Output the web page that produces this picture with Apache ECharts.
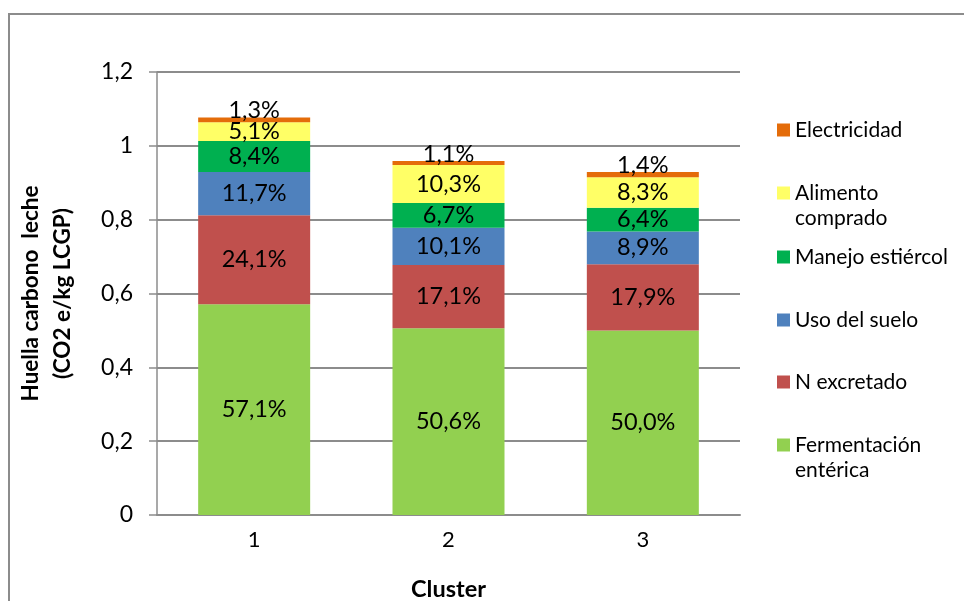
<!DOCTYPE html>
<html>
<head>
<meta charset="utf-8">
<script src="https://cdn.jsdelivr.net/npm/echarts@6/dist/echarts.min.js"></script>
<style>
  html, body { margin: 0; padding: 0; background: #ffffff; }
  #chart { width: 964px; height: 601px; }
</style>
</head>
<body>
<div id="chart"></div>
<script>
// Clusters on the horizontal axis
var clusters = ['1', '2', '3'];

// Carbon footprint contributions (kg CO2 e / kg LCGP) per source
var fermentacion = [0.571, 0.506, 0.500];
var nExcretado   = [0.241, 0.171, 0.179];
var usoSuelo     = [0.117, 0.101, 0.089];
var manejo       = [0.084, 0.067, 0.064];
var alimento     = [0.051, 0.103, 0.083];
var electricidad = [0.013, 0.011, 0.014];

// Y axis tick values
var yTicks = [0, 0.2, 0.4, 0.6, 0.8, 1, 1.2];

var FONT = 'Lato, "Open Sans", sans-serif';

function pct(v) {
  return (v * 100).toFixed(1).replace('.', ',') + '%';
}

function bar(name, data, color, labelOffset) {
  return {
    name: name,
    type: 'bar',
    stack: 'total',
    barWidth: 112,
    data: data,
    itemStyle: { color: color },
    label: {
      show: true,
      position: 'inside',
      offset: labelOffset || [0, 0],
      color: '#000000',
      fontFamily: FONT,
      fontSize: 23.5,
      formatter: function (p) { return pct(p.value); }
    },
    emphasis: { disabled: true }
  };
}

// One legend block per entry so each can sit at its own height
var legendRows = [
  { name: 'Electricidad',          text: 'Electricidad',     center: 130 },
  { name: 'Alimento comprado',     text: 'Alimento',         center: 193 },
  { name: 'Manejo estiércol',      text: 'Manejo estiércol', center: 257 },
  { name: 'Uso del suelo',         text: 'Uso del suelo',    center: 320 },
  { name: 'N excretado',           text: 'N excretado',      center: 382 },
  { name: 'Fermentación entérica', text: 'Fermentación',     center: 445 }
];

var legends = legendRows.map(function (r) {
  return {
    data: [r.name],
    orient: 'vertical',
    left: 777,
    top: r.center - 12.5,
    padding: 0,
    itemWidth: 13,
    itemHeight: 13,
    icon: 'rect',
    selectedMode: false,
    formatter: function () { return r.text; },
    textStyle: { fontFamily: FONT, fontSize: 21, lineHeight: 25, color: '#000000' }
  };
});

var chart = echarts.init(document.getElementById('chart'), null, { renderer: 'canvas' });

chart.setOption({
  animation: false,
  backgroundColor: '#ffffff',
  grid: { left: 157, right: 224, top: 72, bottom: 86, containLabel: false, outerBoundsMode: 'none' },
  legend: legends,
  graphic: [
    {
      type: 'rect',
      shape: { x: 9, y: 14, width: 1000, height: 700 },
      style: { fill: 'none', stroke: '#8c8c8c', lineWidth: 2 },
      silent: true,
      z: -1
    },
    {
      type: 'text',
      left: 795,
      top: 218 - 12.5,
      style: { text: 'comprado', font: '21px ' + FONT, fill: '#000000', lineHeight: 25 }
    },
    {
      type: 'text',
      left: 795,
      top: 470 - 12.5,
      style: { text: 'entérica', font: '21px ' + FONT, fill: '#000000', lineHeight: 25 }
    }
  ],
  xAxis: {
    type: 'category',
    data: clusters,
    name: 'Cluster',
    nameLocation: 'middle',
    nameGap: 62,
    nameTextStyle: { fontFamily: FONT, fontSize: 23.5, fontWeight: 'bold', color: '#000000' },
    axisLine: { lineStyle: { color: '#8c8c8c', width: 2 } },
    axisTick: { show: false },
    axisLabel: { margin: 14, fontFamily: FONT, fontSize: 22, color: '#000000' }
  },
  yAxis: {
    type: 'value',
    min: 0,
    max: 1.2,
    interval: 0.2,
    name: 'Huella carbono  leche\n(CO2 e/kg LCGP)',
    nameLocation: 'middle',
    nameGap: 78,
    nameTextStyle: { fontFamily: FONT, fontSize: 22.5, fontWeight: 'bold', color: '#000000', lineHeight: 32 },
    axisLine: { show: true, lineStyle: { color: '#8c8c8c', width: 1.5 } },
    axisTick: { show: true, inside: false, length: 8, lineStyle: { color: '#8c8c8c', width: 1.5 } },
    splitLine: { show: true, lineStyle: { color: '#8c8c8c', width: 2 } },
    axisLabel: {
      margin: 24,
      fontFamily: FONT,
      fontSize: 23,
      color: '#000000',
      formatter: function (v) {
        for (var i = 0; i < yTicks.length; i++) {
          if (Math.abs(yTicks[i] - v) < 1e-9) return String(yTicks[i]).replace('.', ',');
        }
        return '';
      }
    }
  },
  series: [
    bar('Fermentación entérica', fermentacion, '#92D050'),
    bar('N excretado', nExcretado, '#C0504D'),
    bar('Uso del suelo', usoSuelo, '#4F81BD'),
    bar('Manejo estiércol', manejo, '#00B050'),
    bar('Alimento comprado', alimento, '#FFFF66'),
    bar('Electricidad', electricidad, '#E46C0A', [0, -9])
  ]
});
</script>
</body>
</html>
